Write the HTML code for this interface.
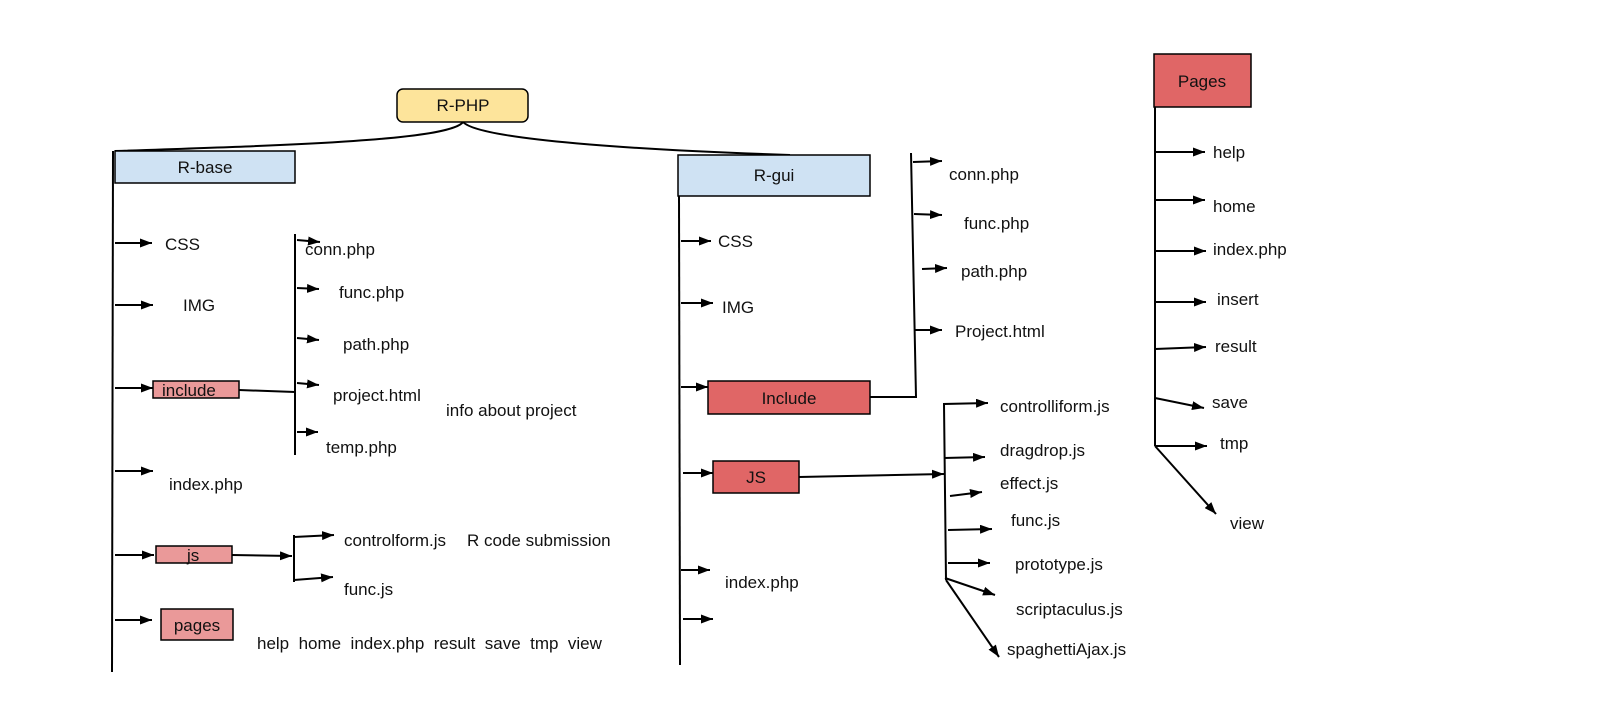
<!DOCTYPE html>
<html><head><meta charset="utf-8"><style>
html,body{margin:0;padding:0;background:#fff;}
svg{display:block;}
text{font-family:"Liberation Sans",Arial,sans-serif;font-size:17px;fill:#111;}
</style></head><body>
<svg width="1600" height="721" viewBox="0 0 1600 721" xmlns="http://www.w3.org/2000/svg">
<defs>
<marker id="a" viewBox="0 0 10 10" refX="10" refY="5" markerWidth="12" markerHeight="9" orient="auto" markerUnits="userSpaceOnUse" preserveAspectRatio="none"><path d="M0,0 L10,5 L0,10 z" fill="#000"/></marker>
</defs>
<style>.l{stroke:#000;stroke-width:2;fill:none}</style>
<!-- root -->
<path class="l" d="M463,122 C450,140 300,145 115,151"/>
<path class="l" d="M463,122 C480,140 640,150 790,155"/>
<rect x="397" y="89" width="131" height="33" rx="6" fill="#fde49b" stroke="#000" stroke-width="1.5"/>
<text x="463" y="111" text-anchor="middle">R-PHP</text>

<!-- R-base -->
<rect x="115" y="151" width="180" height="32" fill="#cfe2f3" stroke="#000" stroke-width="1.5"/>
<text x="205" y="173" text-anchor="middle">R-base</text>
<line class="l" x1="113" y1="151" x2="112" y2="672"/>
<path class="l" d="M115,243 L152,243" marker-end="url(#a)"/>
<path class="l" d="M115,305 L153,305" marker-end="url(#a)"/>
<path class="l" d="M115,388 L153,388" marker-end="url(#a)"/>
<path class="l" d="M115,471 L153,471" marker-end="url(#a)"/>
<path class="l" d="M115,555 L154,555" marker-end="url(#a)"/>
<path class="l" d="M115,620 L152,620" marker-end="url(#a)"/>
<text x="165" y="250">CSS</text>
<text x="183" y="311">IMG</text>
<rect x="153" y="381" width="86" height="17" fill="#ea9999" stroke="#000" stroke-width="1.5"/>
<text x="162" y="396">include</text>
<text x="169" y="490">index.php</text>
<rect x="156" y="546" width="76" height="17" fill="#ea9999" stroke="#000" stroke-width="1.5"/>
<text x="187" y="561">js</text>
<rect x="161" y="609" width="72" height="31" fill="#ea9999" stroke="#000" stroke-width="1.5"/>
<text x="197" y="631" text-anchor="middle">pages</text>
<text x="257" y="649" xml:space="preserve">help  home  index.php  result  save  tmp  view</text>

<line class="l" x1="239" y1="390" x2="295" y2="392"/>
<line class="l" x1="295" y1="234" x2="295" y2="455"/>
<path class="l" d="M297,240 L320,242" marker-end="url(#a)"/>
<path class="l" d="M297,288 L319,289" marker-end="url(#a)"/>
<path class="l" d="M297,338 L319,340" marker-end="url(#a)"/>
<path class="l" d="M297,383 L319,385" marker-end="url(#a)"/>
<path class="l" d="M297,432 L318,432" marker-end="url(#a)"/>
<text x="305" y="255">conn.php</text>
<text x="339" y="298">func.php</text>
<text x="343" y="350">path.php</text>
<text x="333" y="401">project.html</text>
<text x="326" y="453">temp.php</text>
<text x="446" y="416">info about project</text>

<path class="l" d="M232,555 L292,556" marker-end="url(#a)"/>
<line class="l" x1="294" y1="535" x2="294" y2="582"/>
<path class="l" d="M294,537 L334,535" marker-end="url(#a)"/>
<path class="l" d="M294,580 L333,577" marker-end="url(#a)"/>
<text x="344" y="546">controlform.js</text>
<text x="467" y="546">R code submission</text>
<text x="344" y="595">func.js</text>

<!-- R-gui -->
<rect x="678" y="155" width="192" height="41" fill="#cfe2f3" stroke="#000" stroke-width="1.5"/>
<text x="774" y="181" text-anchor="middle">R-gui</text>
<line class="l" x1="679" y1="196" x2="680" y2="665"/>
<path class="l" d="M681,241 L711,241" marker-end="url(#a)"/>
<path class="l" d="M681,303 L713,303" marker-end="url(#a)"/>
<path class="l" d="M681,387 L708,387" marker-end="url(#a)"/>
<path class="l" d="M683,473 L713,473" marker-end="url(#a)"/>
<path class="l" d="M681,570 L710,570" marker-end="url(#a)"/>
<path class="l" d="M683,619 L713,619" marker-end="url(#a)"/>
<text x="718" y="247">CSS</text>
<text x="722" y="313">IMG</text>
<rect x="708" y="381" width="162" height="33" fill="#e06666" stroke="#000" stroke-width="1.5"/>
<text x="789" y="404" text-anchor="middle">Include</text>
<rect x="713" y="461" width="86" height="32" fill="#e06666" stroke="#000" stroke-width="1.5"/>
<text x="756" y="483" text-anchor="middle">JS</text>
<text x="725" y="588">index.php</text>

<path class="l" d="M870,397 L916,397 L911,153"/>
<path class="l" d="M913,162 L942,161" marker-end="url(#a)"/>
<path class="l" d="M914,214 L942,215" marker-end="url(#a)"/>
<path class="l" d="M922,269 L947,268" marker-end="url(#a)"/>
<path class="l" d="M915,330 L942,330" marker-end="url(#a)"/>
<text x="949" y="180">conn.php</text>
<text x="964" y="229">func.php</text>
<text x="961" y="277">path.php</text>
<text x="955" y="337">Project.html</text>

<path class="l" d="M799,477 L944,474" marker-end="url(#a)"/>
<path class="l" d="M946,580 L944,404 L988,403" marker-end="url(#a)"/>
<path class="l" d="M944,458 L985,457" marker-end="url(#a)"/>
<path class="l" d="M950,496 L982,492" marker-end="url(#a)"/>
<path class="l" d="M948,530 L992,529" marker-end="url(#a)"/>
<path class="l" d="M948,563 L990,563" marker-end="url(#a)"/>
<path class="l" d="M945,578 L995,595" marker-end="url(#a)"/>
<path class="l" d="M946,580 L999,657" marker-end="url(#a)"/>
<text x="1000" y="412">controlliform.js</text>
<text x="1000" y="456">dragdrop.js</text>
<text x="1000" y="489">effect.js</text>
<text x="1011" y="526">func.js</text>
<text x="1015" y="570">prototype.js</text>
<text x="1016" y="615">scriptaculus.js</text>
<text x="1007" y="655">spaghettiAjax.js</text>

<!-- Pages -->
<rect x="1154" y="54" width="97" height="53" fill="#e06666" stroke="#000" stroke-width="1.5"/>
<text x="1202" y="87" text-anchor="middle">Pages</text>
<line class="l" x1="1155" y1="107" x2="1155" y2="446"/>
<path class="l" d="M1155,152 L1205,152" marker-end="url(#a)"/>
<path class="l" d="M1155,200 L1205,200" marker-end="url(#a)"/>
<path class="l" d="M1155,251 L1206,251" marker-end="url(#a)"/>
<path class="l" d="M1155,302 L1206,302" marker-end="url(#a)"/>
<path class="l" d="M1155,349 L1206,347" marker-end="url(#a)"/>
<path class="l" d="M1155,398 L1204,408" marker-end="url(#a)"/>
<path class="l" d="M1155,446 L1207,446" marker-end="url(#a)"/>
<path class="l" d="M1155,446 L1216,514" marker-end="url(#a)"/>
<text x="1213" y="158">help</text>
<text x="1213" y="212">home</text>
<text x="1213" y="255">index.php</text>
<text x="1217" y="305">insert</text>
<text x="1215" y="352">result</text>
<text x="1212" y="408">save</text>
<text x="1220" y="449">tmp</text>
<text x="1230" y="529">view</text>
</svg>
</body></html>
